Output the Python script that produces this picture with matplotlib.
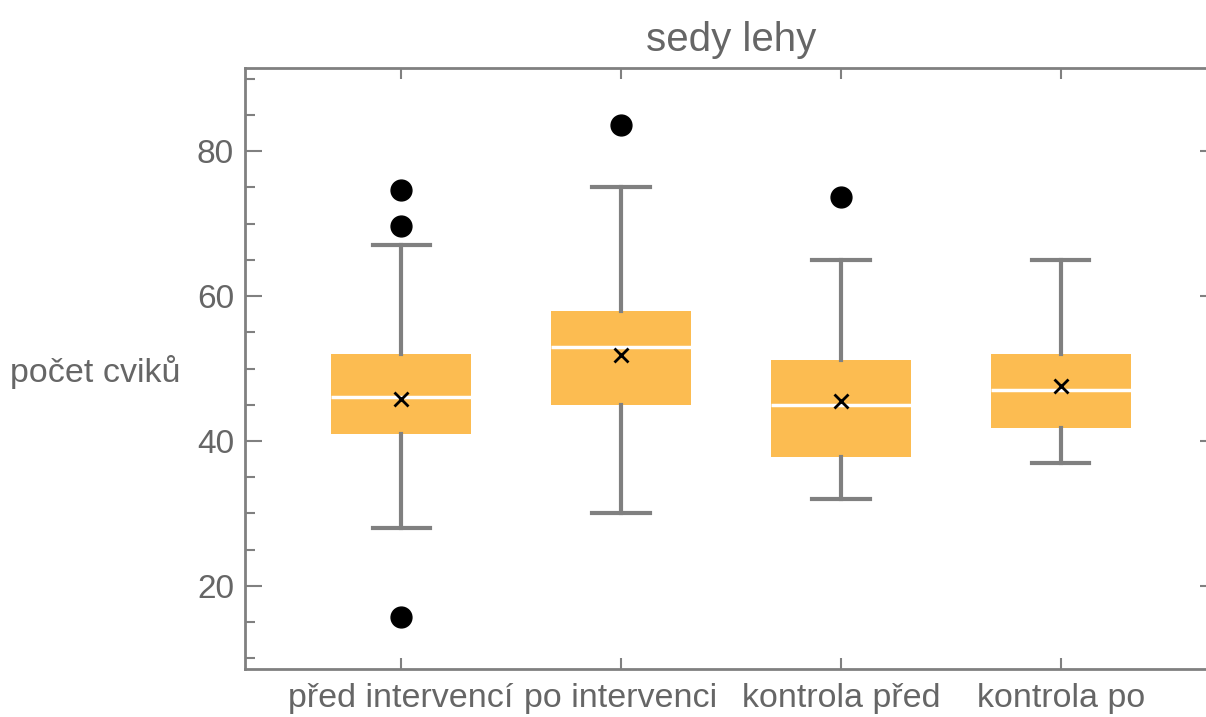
import numpy as np
import matplotlib
matplotlib.use("Agg")
import matplotlib.pyplot as plt
from matplotlib.ticker import MultipleLocator

plt.rcParams['font.family'] = ['Liberation Sans', 'DejaVu Sans']

groups = ['před intervencí', 'po intervenci', 'kontrola před', 'kontrola po']
q1 = [41, 45, 37.8, 41.8]
med = [46, 53, 45, 47]
q3 = [52, 58, 51.2, 52]
mean = [45.8, 51.9, 45.5, 47.6]
whislo = [28, 30, 32, 37]
whishi = [67, 75, 65, 65]
fliers = [[74.6, 69.7, 15.7], [83.6], [73.7], []]

gray = '#808080'
txt = '#666666'
fill = '#FCBC51'

stats = []
for i in range(len(groups)):
    stats.append(dict(label=groups[i], q1=q1[i], med=med[i], q3=q3[i], mean=mean[i],
                      whislo=whislo[i], whishi=whishi[i], fliers=fliers[i]))

fig = plt.figure(figsize=(12.06, 7.17), dpi=100)
# the frame runs past the right edge of the picture, as in the original
ax = fig.add_axes([245/1206, 1 - 669/717, (1217-245)/1206, (669-68)/717])

pos = np.arange(1, len(groups) + 1)
ax.bxp(stats, positions=pos, widths=0.636, patch_artist=True, showmeans=True,
       boxprops=dict(facecolor=fill, edgecolor=fill, linewidth=0),
       medianprops=dict(color='white', linewidth=2.5, solid_capstyle='butt'),
       whiskerprops=dict(color=gray, linewidth=3),
       capprops=dict(color=gray, linewidth=3),
       capwidths=0.26,
       meanprops=dict(marker='x', markeredgecolor='black', markersize=10, markeredgewidth=2),
       flierprops=dict(marker='o', markerfacecolor='black', markeredgecolor='black', markersize=15))

ax.set_xlim(0.29, 4.71)
ax.set_ylim(8.55, 91.45)
ax.yaxis.set_major_locator(MultipleLocator(20))
ax.yaxis.set_minor_locator(MultipleLocator(5))
ax.set_xticks(pos)
ax.set_xticklabels(groups)

for s in ax.spines.values():
    s.set_color(gray)
    s.set_linewidth(2)
ax.spines['right'].set_visible(False)

ax.tick_params(axis='both', which='both', direction='in', color=gray, width=1.5,
               top=True, right=True, labelcolor=txt)
ax.tick_params(axis='y', which='major', length=12, labelsize=24, pad=8)
ax.tick_params(axis='y', which='minor', length=7, right=False)
ax.tick_params(axis='x', which='major', length=8, labelsize=24.5, pad=10)

ax.set_title('sedy lehy', fontsize=29, color=txt, pad=12)
fig.text(10/1206, 1 - 372/717, 'počet cviků', fontsize=24.5, color=txt, ha='left', va='center')

fig.savefig('out.png', dpi=100)
